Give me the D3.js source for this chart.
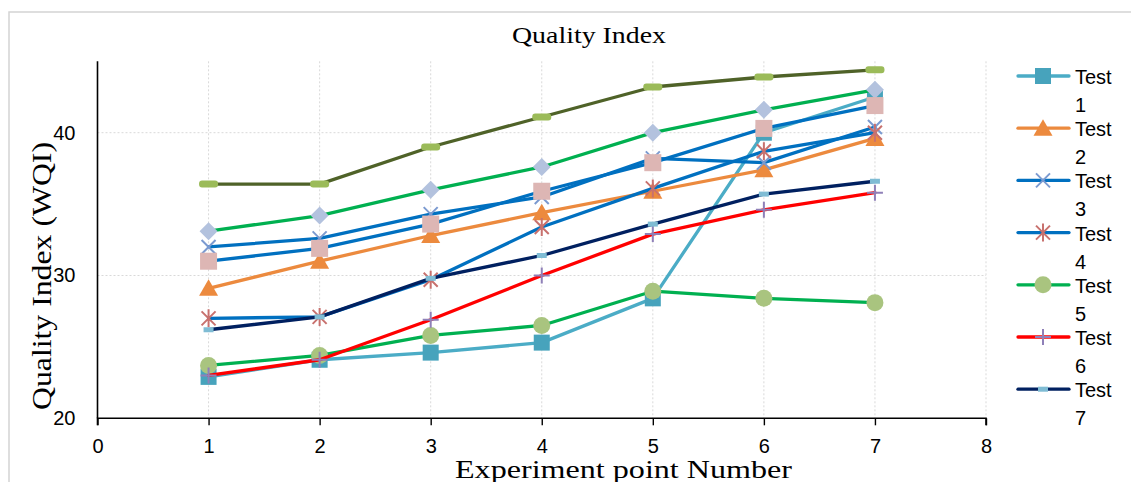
<!DOCTYPE html>
<html>
<head>
<meta charset="utf-8">
<script src="https://cdn.jsdelivr.net/npm/d3@7"></script>
<style>
  body { margin: 0; background: #fff; }
  svg { display: block; }
</style>
</head>
<body>
<div id="chart"></div>
<script>
// Data
var xPoints = [1, 2, 3, 4, 5, 6, 7];
var test1 = [22.9, 24.1, 24.6, 25.3, 28.4, 40.0, 42.5];
var test2 = [29.1, 31.0, 32.8, 34.4, 35.9, 37.4, 39.6];
var test3 = [32.0, 32.6, 34.3, 35.5, 38.2, 37.9, 40.4];
var test4 = [27.0, 27.1, 29.7, 33.4, 36.1, 38.7, 40.0];
var test5 = [23.7, 24.4, 25.8, 26.5, 28.9, 28.4, 28.1];
var test6 = [23.0, 24.1, 26.9, 30.0, 32.9, 34.6, 35.8];
var test7 = [26.2, 27.1, 29.8, 31.4, 33.6, 35.7, 36.6];
var test8 = [33.1, 34.2, 36.0, 37.6, 40.0, 41.6, 43.0];
var test9 = [31.0, 31.9, 33.6, 35.9, 37.9, 40.3, 41.9];
var test10 = [36.4, 36.4, 39.0, 41.1, 43.2, 43.9, 44.4];
var seriesNames = ["Test 1", "Test 2", "Test 3", "Test 4", "Test 5",
                   "Test 6", "Test 7", "Test 8", "Test 9", "Test 10"];
var xTicks = [0, 1, 2, 3, 4, 5, 6, 7, 8];
var yTicks = [20, 30, 40];

// styles for each series
var styles = [
  { line: "#4BACC6", marker: "square", fill: "#47A3BC" },
  { line: "#EC8A3E", marker: "triangle", fill: "#EC8A3E" },
  { line: "#0070C0", marker: "x", fill: "#7B9AD0" },
  { line: "#0070C0", marker: "asterisk", fill: "#C8716E" },
  { line: "#00B050", marker: "circle", fill: "#A9C47F" },
  { line: "#FF0000", marker: "plus", fill: "#8F80B8" },
  { line: "#002060", marker: "smallDash", fill: "#7FBCD4" },
  { line: "#00B050", marker: "diamond", fill: "#B3C2DE" },
  { line: "#0070C0", marker: "bigSquare", fill: "#DDB6B4" },
  { line: "#4F6228", marker: "bigDash", fill: "#9BBB59" }
];

var allSeries = [test1, test2, test3, test4, test5, test6, test7, test8, test9, test10];

var svgWidth = 1131;
var svgHeight = 482;

var svg = d3.select("#chart")
  .append("svg")
  .attr("width", svgWidth)
  .attr("height", svgHeight);

// chart area border
svg.append("rect")
  .attr("x", 9)
  .attr("y", 12)
  .attr("width", svgWidth + 20)
  .attr("height", svgHeight + 20)
  .attr("fill", "none")
  .attr("stroke", "#D4D4D4")
  .attr("stroke-width", 1.5);

var xScale = d3.scaleLinear().domain([0, 8]).range([97.5, 986]);
var yScale = d3.scaleLinear().domain([20, 45]).range([418.3, 61.3]);

// gridlines
var grid = svg.append("g");
grid.selectAll(".vgrid")
  .data(xTicks.slice(1))
  .enter()
  .append("line")
  .attr("x1", d => xScale(d))
  .attr("x2", d => xScale(d))
  .attr("y1", yScale(45))
  .attr("y2", yScale(20))
  .attr("stroke", "#D9D9D9")
  .attr("stroke-width", 1)
  .attr("stroke-dasharray", "2,2");

grid.selectAll(".hgrid")
  .data(yTicks.slice(1))
  .enter()
  .append("line")
  .attr("x1", xScale(0))
  .attr("x2", xScale(8))
  .attr("y1", d => yScale(d))
  .attr("y2", d => yScale(d))
  .attr("stroke", "#D9D9D9")
  .attr("stroke-width", 1)
  .attr("stroke-dasharray", "2,2");

// axes
var bottomAxis = d3.axisBottom(xScale).tickValues(xTicks).tickSize(7).tickPadding(14);
var leftAxis = d3.axisLeft(yScale).tickValues(yTicks).tickSize(0).tickPadding(22);

var xAxisG = svg.append("g")
  .attr("transform", `translate(0, ${yScale(20)})`)
  .call(bottomAxis);
var yAxisG = svg.append("g")
  .attr("transform", `translate(${xScale(0)}, 0)`)
  .call(leftAxis);

[xAxisG, yAxisG].forEach(function(g) {
  g.select(".domain").attr("stroke", "#000").attr("stroke-width", 1.6);
  g.selectAll(".tick line").attr("stroke", "#000").attr("stroke-width", 1.4);
  g.selectAll(".tick text")
    .attr("fill", "#000")
    .style("font-family", "'Liberation Sans', Arial, sans-serif")
    .style("font-size", "20px");
});
// y axis is drawn only up to the top of the plot
yAxisG.select(".domain").attr("d", `M0,${yScale(45)}V${yScale(20)}`);
xAxisG.select(".domain").attr("d", `M${xScale(0)},7V0H${xScale(8)}V7`);

// markers
function drawMarker(g, type, color) {
  if (type === "square") {
    g.append("rect").attr("x", -8).attr("y", -8).attr("width", 16).attr("height", 16).attr("fill", color);
  } else if (type === "bigSquare") {
    g.append("rect").attr("x", -8.5).attr("y", -8.5).attr("width", 17).attr("height", 17).attr("fill", color);
  } else if (type === "triangle") {
    g.append("path").attr("d", "M0,-9L9.5,7.5L-9.5,7.5Z").attr("fill", color);
  } else if (type === "x") {
    g.append("path").attr("d", "M-7,-7L7,7M-7,7L7,-7").attr("stroke", color).attr("stroke-width", 2).attr("fill", "none");
  } else if (type === "asterisk") {
    g.append("path").attr("d", "M-7,-7L7,7M-7,7L7,-7M0,-9V9").attr("stroke", color).attr("stroke-width", 2).attr("fill", "none");
  } else if (type === "circle") {
    g.append("circle").attr("r", 8.5).attr("fill", color);
  } else if (type === "plus") {
    g.append("path").attr("d", "M-8,0H8M0,-8V8").attr("stroke", color).attr("stroke-width", 2).attr("fill", "none");
  } else if (type === "smallDash") {
    g.append("rect").attr("x", -5).attr("y", -2.5).attr("width", 10).attr("height", 5).attr("fill", color);
  } else if (type === "bigDash") {
    g.append("rect").attr("x", -9.5).attr("y", -3.5).attr("width", 19).attr("height", 7).attr("rx", 3).attr("fill", color);
  } else if (type === "diamond") {
    g.append("path").attr("d", "M0,-9L9,0L0,9L-9,0Z").attr("fill", color);
  }
}

var line = d3.line()
  .x((d, i) => xScale(xPoints[i]))
  .y(d => yScale(d));

allSeries.forEach(function(values, k) {
  var s = styles[k];
  var g = svg.append("g").attr("class", "series");
  g.append("path")
    .datum(values)
    .attr("d", line)
    .attr("fill", "none")
    .attr("stroke", s.line)
    .attr("stroke-width", 3.3)
    .attr("stroke-linejoin", "round")
    .attr("stroke-linecap", "round");
  g.selectAll(".pt")
    .data(values)
    .enter()
    .append("g")
    .attr("transform", (d, i) => `translate(${xScale(xPoints[i])},${yScale(d)})`)
    .each(function() { drawMarker(d3.select(this), s.marker, s.fill); });
});

// legend (only the first seven entries fit)
var legend = svg.append("g");
seriesNames.slice(0, 7).forEach(function(name, k) {
  var s = styles[k];
  var ly = 76 + k * 52.2;
  var item = legend.append("g").attr("transform", `translate(0, ${ly})`);
  item.append("line")
    .attr("x1", 1018).attr("x2", 1069)
    .attr("stroke", s.line).attr("stroke-width", 3.3)
    .attr("stroke-linecap", "round");
  drawMarker(item.append("g").attr("transform", "translate(1043,0)"), s.marker, s.fill);
  var parts = name.split(" ");
  item.append("text")
    .attr("x", 1075).attr("y", 8)
    .style("font-family", "'Liberation Sans', Arial, sans-serif")
    .style("font-size", "20px")
    .text(parts[0]);
  item.append("text")
    .attr("x", 1075).attr("y", 36)
    .style("font-family", "'Liberation Sans', Arial, sans-serif")
    .style("font-size", "20px")
    .text(parts[1]);
});

// titles
svg.append("text")
  .attr("x", 589).attr("y", 43)
  .attr("text-anchor", "middle")
  .attr("textLength", 154)
  .attr("lengthAdjust", "spacingAndGlyphs")
  .style("font-family", "'Liberation Serif', 'Times New Roman', serif")
  .style("font-size", "24px")
  .text("Quality Index");

svg.append("text")
  .attr("x", 623.5).attr("y", 478)
  .attr("text-anchor", "middle")
  .attr("textLength", 337)
  .attr("lengthAdjust", "spacingAndGlyphs")
  .style("font-family", "'Liberation Serif', 'Times New Roman', serif")
  .style("font-size", "25px")
  .text("Experiment point Number");

svg.append("text")
  .attr("transform", "translate(51, 276) rotate(-90)")
  .attr("text-anchor", "middle")
  .attr("textLength", 268)
  .attr("lengthAdjust", "spacingAndGlyphs")
  .style("font-family", "'Liberation Serif', 'Times New Roman', serif")
  .style("font-size", "27px")
  .text("Quality Index (WQI)");
</script>
</body>
</html>
